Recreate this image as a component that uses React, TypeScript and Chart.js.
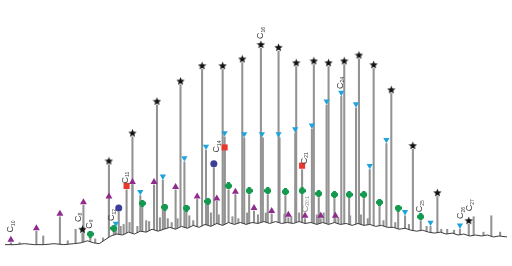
import React, { useEffect, useRef } from "react";
import { Chart, registerables } from "chart.js";
Chart.register(...registerables);

// Retention axis (arbitrary units) and detector response
const baseX = [0, 10, 20, 30, 40, 50, 60, 70, 78, 84, 90, 96, 102, 108, 114, 120, 126, 132, 138, 144, 150, 156, 162, 168, 174, 180, 186, 192, 198, 204, 210, 216, 222, 228, 234, 240, 246, 252, 258, 264, 270, 276, 282, 288, 294, 300, 306, 312, 318, 324, 330, 336, 342, 348, 354, 360, 366, 372, 378, 384, 390, 396, 402, 408, 414, 420, 426, 432, 438, 444, 450, 456, 462, 468, 474, 480, 486, 492, 498, 504, 512];
const baseY = [17, 17, 18, 17, 17, 18, 17, 18, 19, 21, 19, 18, 22, 26, 28, 27, 30, 28, 31, 30, 33, 31, 33, 35, 33, 36, 34, 37, 35, 38, 36, 39, 37, 40, 38, 40, 38, 40, 39, 41, 39, 41, 39, 40, 39, 41, 39, 40, 38, 40, 38, 40, 38, 39, 37, 39, 37, 38, 36, 37, 35, 35, 33, 34, 32, 31, 32, 30, 29, 30, 28, 29, 27, 28, 26, 27, 26, 27, 25, 26, 25];

// peaks (n-alkanes = stars, other series = other markers, unmarked peaks)
const alkaneX = [79, 106, 130, 155, 179, 201, 222, 242, 261, 279, 297, 315, 330, 346, 361, 376, 394, 416, 441, 473];
const alkaneY = [29, 100, 129, 162, 183, 199, 199, 206, 221, 218, 202, 204, 202, 204, 210, 200, 174, 116, 67, 38];
const blueX = [113, 138, 161, 183, 205, 224, 244, 263, 280, 296, 313, 328, 343, 358, 372, 389, 408, 434, 464];
const blueY = [35, 68, 84, 103, 115, 129, 128, 128, 128, 133, 137, 162, 171, 159, 95, 122, 47, 36, 33];
const purpleX = [6, 32, 56, 80, 106, 130, 152, 174, 196, 216, 235, 254, 272, 289, 306, 322, 337];
const purpleY = [19, 31, 46, 58, 64, 79, 79, 74, 64, 62, 69, 52, 49, 45, 44, 44, 44];
const greenX = [87, 111, 140, 163, 185, 207, 228, 249, 268, 286, 303, 320, 336, 351, 366, 382, 401, 424];
const greenY = [24, 30, 56, 52, 51, 58, 74, 69, 69, 68, 69, 66, 65, 65, 65, 57, 51, 42];
const redX = [124, 224, 303];
const redY = [74, 114, 95];
const circX = [116, 213];
const circY = [51, 97];
const otherX = [15, 39, 64, 72, 92, 100, 118, 121, 127, 135, 144, 147, 158, 166, 170, 176, 188, 192, 210, 218, 232, 238, 247, 258, 266, 285, 292, 300, 318, 325, 340, 352, 363, 370, 386, 398, 412, 430, 445, 451, 458, 478, 488, 496, 505];
const otherY = [19, 26, 21, 33, 23, 24, 36, 38, 40, 36, 42, 41, 45, 44, 40, 44, 47, 42, 50, 48, 46, 44, 50, 48, 50, 49, 46, 50, 48, 50, 45, 47, 48, 44, 42, 40, 38, 36, 33, 33, 32, 46, 30, 47, 30];

// marker positions
const starMX = [79, 106, 130, 155, 179, 201, 222, 242, 261, 279, 297, 315, 330, 346, 361, 376, 394, 416, 441, 473];
const starMY = [33, 104, 133, 166, 187, 203, 203, 210, 225, 222, 206, 208, 206, 208, 214, 204, 178, 120, 71, 42];
const blueMX = [113, 138, 161, 183, 205, 224, 244, 262, 279, 296, 313, 328, 343, 358, 372, 389, 408, 434, 464];
const blueMY = [39, 72, 88, 107, 119, 133, 132, 132, 132, 137, 141, 166, 175, 163, 99, 126, 51, 40, 37];
const purpleMX = [6, 32, 56, 80, 106, 130, 152, 174, 196, 216, 235, 254, 272, 289, 306, 322, 337];
const purpleMY = [22, 34, 49, 61, 67, 82, 82, 77, 67, 65, 72, 55, 52, 48, 47, 47, 47];
const greenMX = [87, 111, 140, 163, 185, 207, 228, 249, 268, 286, 303, 320, 336, 351, 366, 382, 401, 424];
const greenMY = [28, 34, 60, 56, 55, 62, 78, 73, 73, 72, 73, 70, 69, 69, 69, 61, 55, 46];
const redMX = [124, 224, 303];
const redMY = [78, 118, 99];
const circMX = [116, 213];
const circMY = [55, 101];

// peak labels
const labelX = [6, 75, 86, 109, 123, 216, 261, 305, 306, 342, 423, 465, 474];
const labelY = [33, 44, 37, 45, 84, 116, 234, 104, 54, 182, 54, 47, 55];
const labelSub = ["10", "8", "9", "12", "11", "14", "16", "21", "20:1", "24", "25", "26", "27"];

const pts = (xs: number[], ys: number[]) => xs.map((x, i) => ({ x, y: ys[i] }));

function makeStar(): HTMLCanvasElement {
  const c = document.createElement("canvas");
  c.width = 9; c.height = 9;
  const g = c.getContext("2d")!;
  g.fillStyle = "#111";
  g.beginPath();
  for (let i = 0; i < 10; i++) {
    const r = i % 2 === 0 ? 4.4 : 1.9;
    const a = -Math.PI / 2 + (i * Math.PI) / 5;
    const px = 4.5 + r * Math.cos(a);
    const py = 4.8 + r * Math.sin(a);
    if (i === 0) g.moveTo(px, py); else g.lineTo(px, py);
  }
  g.closePath();
  g.fill();
  return c;
}

function makePlus(): HTMLCanvasElement {
  const c = document.createElement("canvas");
  c.width = 7; c.height = 7;
  const g = c.getContext("2d")!;
  g.fillStyle = "#139a4f";
  g.fillRect(2, 0, 3, 7);
  g.fillRect(0, 2, 7, 3);
  g.fillRect(1, 1, 5, 5);
  return c;
}

export default function App() {
  const ref = useRef<HTMLCanvasElement>(null);
  useEffect(() => {
    document.body.style.margin = "0";
    const star = makeStar();
    const plus = makePlus();
    const labelPlugin = {
      id: "clabels",
      afterDatasetsDraw(chart: any) {
        const ctx = chart.ctx as CanvasRenderingContext2D;
        const xs = chart.scales.x, ys = chart.scales.y;
        ctx.save();
        for (let i = 0; i < labelX.length; i++) {
          const px = xs.getPixelForValue(labelX[i]);
          const py = ys.getPixelForValue(labelY[i]);
          ctx.save();
          ctx.translate(px, py);
          ctx.rotate(-Math.PI / 2);
          ctx.fillStyle = labelSub[i].includes(":") ? "#888" : "#3a3a3a";
          ctx.font = '9px "Liberation Sans", Arial, sans-serif';
          ctx.textAlign = "center";
          ctx.textBaseline = "middle";
          ctx.fillText("C", 0, 0);
          const w = ctx.measureText("C").width;
          ctx.font = '5px "Liberation Sans", Arial, sans-serif';
          ctx.textAlign = "left";
          ctx.fillText(labelSub[i], w / 2, 2.5);
          ctx.restore();
        }
        ctx.restore();
      },
    };
    const allPeaks = [
      ...pts(alkaneX, alkaneY),
      ...pts(blueX, blueY),
      ...pts(purpleX, purpleY),
      ...pts(greenX, greenY),
      ...pts(redX, redY),
      ...pts(circX, circY),
      ...pts(otherX, otherY),
    ];
    const chart = new Chart(ref.current!, {
      type: "bar",
      data: {
        datasets: [
          { type: "scatter", data: pts(starMX, starMY), pointStyle: star as any, pointRadius: 4, order: 0 } as any,
          { type: "scatter", data: pts(blueMX, blueMY), pointStyle: "triangle", rotation: 180, pointRadius: 3.6, backgroundColor: "#1fa3dc", borderWidth: 0, order: 0 },
          { type: "scatter", data: pts(purpleMX, purpleMY), pointStyle: "triangle", pointRadius: 4, backgroundColor: "#8e2b8c", borderWidth: 0, order: 0 },
          { type: "scatter", data: pts(greenMX, greenMY), pointStyle: plus as any, pointRadius: 3.5, order: 0 } as any,
          { type: "scatter", data: pts(redMX, redMY), pointStyle: "rect", pointRadius: 4.3, backgroundColor: "#e8382c", borderWidth: 0, order: 0 },
          { type: "scatter", data: pts(circMX, circMY), pointStyle: "circle", pointRadius: 3.5, backgroundColor: "#3b3f98", borderWidth: 0, order: 0 },
          { type: "line", data: pts(baseX, baseY), borderColor: "#3c3c3c", borderWidth: 1, pointRadius: 0, tension: 0, fill: "start", backgroundColor: "#ffffff", order: 1 } as any,
          { type: "bar", data: allPeaks, backgroundColor: "#939393", barThickness: 1.4, grouped: false, order: 2 } as any,
        ],
      },
      options: {
        responsive: false,
        animation: false,
        events: [],
        layout: { padding: 0 },
        plugins: { legend: { display: false }, tooltip: { enabled: false } },
        scales: {
          x: { type: "linear", min: 0, max: 512, offset: false, display: false },
          y: { type: "linear", min: 0, max: 266, display: false },
        },
      },
      plugins: [labelPlugin],
    });
    return () => chart.destroy();
  }, []);
  return (
    <div style={{ width: 512, height: 266 }}>
      <canvas ref={ref} width={512} height={266} style={{ display: "block" }} />
    </div>
  );
}
